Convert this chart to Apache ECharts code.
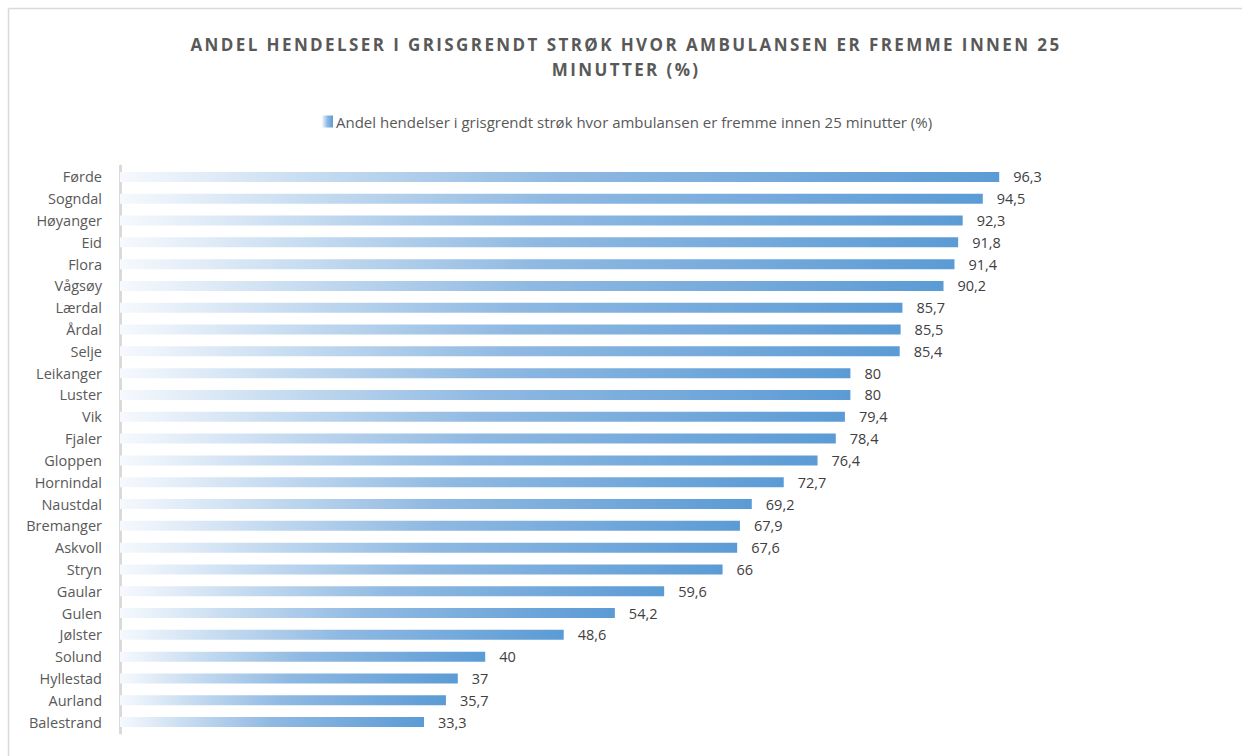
<!DOCTYPE html>
<html><head><meta charset="utf-8">
<script src="https://cdn.jsdelivr.net/npm/echarts@6/dist/echarts.min.js"></script>
<style>html,body{margin:0;padding:0;background:#fff}#c{width:1242px;height:756px}</style>
</head><body><div id="c"></div>
<script>
const categories = ["Førde","Sogndal","Høyanger","Eid","Flora","Vågsøy","Lærdal","Årdal","Selje","Leikanger","Luster","Vik","Fjaler","Gloppen","Hornindal","Naustdal","Bremanger","Askvoll","Stryn","Gaular","Gulen","Jølster","Solund","Hyllestad","Aurland","Balestrand"];
const values = [96.3,94.5,92.3,91.8,91.4,90.2,85.7,85.5,85.4,80,80,79.4,78.4,76.4,72.7,69.2,67.9,67.6,66,59.6,54.2,48.6,40,37,35.7,33.3];
const seriesName = "Andel hendelser i grisgrendt strøk hvor ambulansen er fremme innen 25 minutter (%)";
const titleText = "ANDEL HENDELSER I GRISGRENDT STRØK HVOR AMBULANSEN ER FREMME INNEN 25\nMINUTTER (%)";

const font = "'Open Sans', 'Noto Sans', sans-serif";
const grad = new echarts.graphic.LinearGradient(0,0,1,0,[
  {offset:0,color:'#f6f9fd'},
  {offset:0.25,color:'#c0d8ef'},
  {offset:0.5,color:'#8fb9e2'},
  {offset:1,color:'#5b9bd5'}
]);
const chart = echarts.init(document.getElementById('c'), null, {renderer:'svg'});
chart.setOption({
  animation:false,
  textStyle:{fontFamily:font},
  title:{
    text:titleText,
    left:'center', top:27,
    textStyle:{fontFamily:font,fontSize:17,fontWeight:'bold',color:'#595959',lineHeight:25}
  },
  legend:{
    data:[seriesName], top:109, left:317,
    itemWidth:11, itemHeight:12, itemGap:4,
    icon:'rect',
    textStyle:{fontFamily:font,fontSize:15,color:'#595959',padding:[0,0,0,-2]}
  },
  graphic:[
    {type:'line',shape:{x1:8.5,y1:8.5,x2:1242,y2:8.5},style:{stroke:'#d9d9d9',lineWidth:1.5},silent:true},
    {type:'line',shape:{x1:8.5,y1:8.5,x2:8.5,y2:756},style:{stroke:'#d9d9d9',lineWidth:1.5},silent:true}
  ],
  grid:{left:120,top:166,width:913,height:567,containLabel:false},
  xAxis:{type:'value',min:0,max:100,show:false},
  yAxis:{
    type:'category',data:categories,inverse:true,
    axisLine:{show:true,lineStyle:{color:'#d9d9d9',width:3}},
    axisTick:{show:false},
    axisLabel:{fontFamily:font,fontSize:14.5,color:'#595959',margin:18}
  },
  series:[{
    name:seriesName,type:'bar',data:values,barWidth:10,
    itemStyle:{color:grad},
    label:{show:true,position:'right',distance:14,fontFamily:font,fontSize:14.5,color:'#404040',
      formatter:p=>String(p.value).replace('.',',')}
  }]
});
// widen title letter spacing like the reference, keeping it centred
document.querySelectorAll('#c svg text').forEach(t=>{
  const s = t.textContent;
  if (s.indexOf('ANDEL HENDELSER')===0 || s.indexOf('MINUTTER')===0) {
    const b0 = t.getBBox();
    const c0 = b0.x + b0.width/2;
    t.style.letterSpacing = '2.4px';
    const b1 = t.getBBox();
    const c1 = b1.x + b1.width/2;
    const x = parseFloat(t.getAttribute('x') || '0');
    t.setAttribute('x', x + (c0 - c1) + 5);
  }
});
</script></body></html>
